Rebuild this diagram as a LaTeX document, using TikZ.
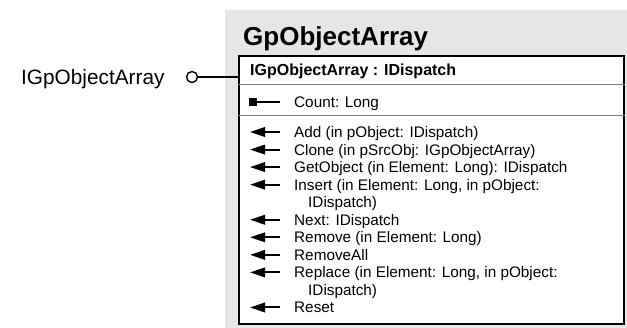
\documentclass[tikz,border=0pt]{standalone}
\usepackage{fontspec}
\setmainfont{Liberation Sans}
\usetikzlibrary{arrows.meta}
\definecolor{panelgray}{HTML}{E6E6E6}
\definecolor{rulegray}{HTML}{7F7F7F}
\tikzset{
  member/.style={anchor=base west, inner sep=0pt, font=\fontsize{15.3}{17.5}\selectfont},
  opicon/.style={line width=2pt, -{Triangle[length=15pt,width=9.5pt]}},
  classbox/.style={draw=black, line width=1.8pt, fill=white, rectangle, inner sep=0pt, anchor=north west},
  sepline/.style={draw=rulegray, line width=1pt},
}
\begin{document}
\begin{tikzpicture}[x=1pt,y=-1pt]
\useasboundingbox (0,0) rectangle (627,328);
% background panel of the class
\fill[panelgray] (225,10) rectangle (627,328);
% class box
\node[classbox, minimum width=384.7pt, minimum height=268pt] (cls) at (238,55) {};
\draw[sepline] (cls.west |- 0,85) -- (cls.east |- 0,85);
\draw[sepline] (cls.west |- 0,115.5) -- (cls.east |- 0,115.5);
% title
\node[anchor=base west, inner sep=0pt, font=\fontsize{26}{29}\bfseries] (title) at (243,46) {GpObjectArray};
% interface lollipop
\node[anchor=base west, inner sep=0pt, font=\fontsize{20.8}{24}\selectfont] (ilabel) at (21,84.4) {IGpObjectArray};
\node[circle, draw=black, line width=1.4pt, fill=white, minimum size=11pt, inner sep=0pt] (lolli) at (192,77) {};
\draw[line width=1.4pt] (lolli.east) -- (lolli -| cls.west);
% header
\node[anchor=base west, inner sep=0pt, font=\fontsize{16}{18}\bfseries] (hdr) at (250,75.7) {IGpObjectArray : IDispatch};
% property
\node[member] (pcount) at (294,107.5) {Count: Long};
\fill (249,98) rectangle (257,106);
\draw[line width=2pt] (257,102) -- (280,102);
% methods
\node[member] (m0) at (294,137.5) {Add (in pObject: IDispatch)};
\node[member] (m1) at (294,155.05) {Clone (in pSrcObj: IGpObjectArray)};
\node[member] (m2) at (294,172.6) {GetObject (in Element: Long): IDispatch};
\node[member] (m3) at (294,190.15) {Insert (in Element: Long, in pObject:};
\node[member] (m3b) at (308,207.7) {IDispatch)};
\node[member] (m5) at (294,225.25) {Next: IDispatch};
\node[member] (m6) at (294,242.8) {Remove (in Element: Long)};
\node[member] (m7) at (294,260.35) {RemoveAll};
\node[member] (m8) at (294,277.9) {Replace (in Element: Long, in pObject:};
\node[member] (m8b) at (308,295.45) {IDispatch)};
\node[member] (m10) at (294,313.0) {Reset};
\foreach \yy in {132.0,149.55,167.1,184.65,219.75,237.3,254.85,272.4,307.5}
  \draw[opicon] (280,\yy) -- (250,\yy);
\end{tikzpicture}
\end{document}
